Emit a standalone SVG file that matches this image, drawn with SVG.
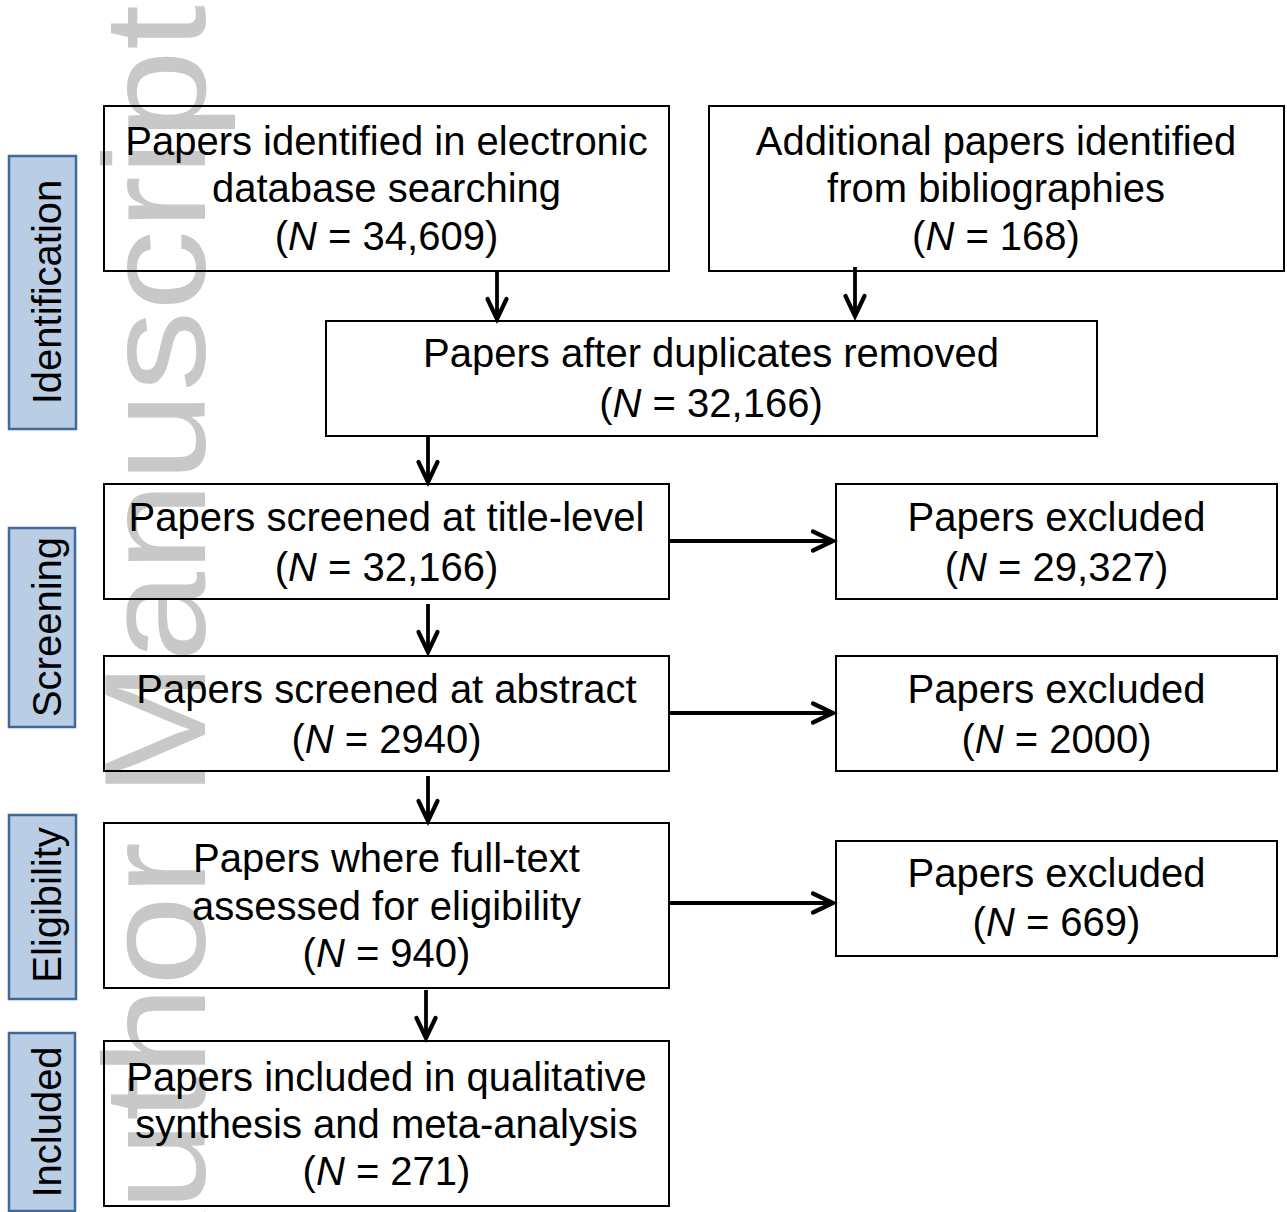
<svg xmlns="http://www.w3.org/2000/svg" width="1287" height="1212" viewBox="0 0 1287 1212">
<style>
.box{fill:none;stroke:#000;stroke-width:2}
.t{font-family:"Liberation Sans",Arial,sans-serif;font-size:40px;fill:#000;text-anchor:middle}
.lab{fill:#b9cde5;stroke:#41699b;stroke-width:2.5}
.wm{font-family:"Liberation Sans",Arial,sans-serif;font-size:145px;fill:#c8c8c8}
.c{fill:none;stroke:#000;stroke-width:3.8}
</style>
<defs>
<marker id="ah" markerUnits="userSpaceOnUse" markerWidth="40" markerHeight="40" viewBox="-30 -20 40 40" refX="0" refY="0" orient="auto" overflow="visible">
<path d="M-20,-9.5 L0,0 L-20,9.5" fill="none" stroke="#000" stroke-width="4.2" stroke-linecap="round" stroke-linejoin="miter"/>
</marker>
</defs>
<rect width="1287" height="1212" fill="#fff"/>
<text class="wm" x="-1314" y="0" textLength="1314" lengthAdjust="spacingAndGlyphs" transform="translate(205,5) rotate(-90)">Author Manuscript</text>

<g id="lab-identification"><rect class="lab" x="9" y="156" width="67" height="273"/><text class="t" transform="translate(61,292) rotate(-90)">Identification</text></g>
<g id="lab-screening"><rect class="lab" x="9" y="528" width="66" height="199"/><text class="t" transform="translate(61,627) rotate(-90)">Screening</text></g>
<g id="lab-eligibility"><rect class="lab" x="9" y="815" width="67" height="184"/><text class="t" transform="translate(61,905) rotate(-90)">Eligibility</text></g>
<g id="lab-included"><rect class="lab" x="9" y="1033" width="66" height="178"/><text class="t" transform="translate(61,1122) rotate(-90)">Included</text></g>

<g id="connectors">
<line class="c" x1="497" y1="271" x2="497" y2="319" marker-end="url(#ah)"/>
<line class="c" x1="855" y1="267" x2="855" y2="316" marker-end="url(#ah)"/>
<line class="c" x1="428" y1="436" x2="428" y2="482" marker-end="url(#ah)"/>
<line class="c" x1="428" y1="604" x2="428" y2="652" marker-end="url(#ah)"/>
<line class="c" x1="428" y1="776" x2="428" y2="821" marker-end="url(#ah)"/>
<line class="c" x1="426" y1="990" x2="426" y2="1038" marker-end="url(#ah)"/>
<line class="c" x1="669" y1="541" x2="833" y2="541" marker-end="url(#ah)"/>
<line class="c" x1="669" y1="713" x2="833" y2="713" marker-end="url(#ah)"/>
<line class="c" x1="669" y1="903" x2="833" y2="903" marker-end="url(#ah)"/>
</g>

<g id="n-database"><rect class="box" x="104" y="106" width="565" height="165"/>
<text class="t" x="386.5" y="155">Papers identified in electronic</text>
<text class="t" x="386.5" y="202">database searching</text>
<text class="t" x="386.5" y="250">(<tspan font-style="italic">N</tspan> = 34,609)</text></g>

<g id="n-biblio"><rect class="box" x="709" y="106" width="575" height="165"/>
<text class="t" x="996" y="155">Additional papers identified</text>
<text class="t" x="996" y="202">from bibliographies</text>
<text class="t" x="996" y="250">(<tspan font-style="italic">N</tspan> = 168)</text></g>

<g id="n-dups"><rect class="box" x="326" y="321" width="771" height="115"/>
<text class="t" x="711" y="367">Papers after duplicates removed</text>
<text class="t" x="711" y="417">(<tspan font-style="italic">N</tspan> = 32,166)</text></g>

<g id="n-title"><rect class="box" x="104" y="484" width="565" height="115"/>
<text class="t" x="386.5" y="531">Papers screened at title-level</text>
<text class="t" x="386.5" y="581">(<tspan font-style="italic">N</tspan> = 32,166)</text></g>

<g id="n-excl1"><rect class="box" x="836" y="484" width="441" height="115"/>
<text class="t" x="1056.5" y="531">Papers excluded</text>
<text class="t" x="1056.5" y="581">(<tspan font-style="italic">N</tspan> = 29,327)</text></g>

<g id="n-abstract"><rect class="box" x="104" y="656" width="565" height="115"/>
<text class="t" x="386.5" y="703">Papers screened at abstract</text>
<text class="t" x="386.5" y="753">(<tspan font-style="italic">N</tspan> = 2940)</text></g>

<g id="n-excl2"><rect class="box" x="836" y="656" width="441" height="115"/>
<text class="t" x="1056.5" y="703">Papers excluded</text>
<text class="t" x="1056.5" y="753">(<tspan font-style="italic">N</tspan> = 2000)</text></g>

<g id="n-fulltext"><rect class="box" x="104" y="823" width="565" height="165"/>
<text class="t" x="386.5" y="872">Papers where full-text</text>
<text class="t" x="386.5" y="920">assessed for eligibility</text>
<text class="t" x="386.5" y="967">(<tspan font-style="italic">N</tspan> = 940)</text></g>

<g id="n-excl3"><rect class="box" x="836" y="841" width="441" height="115"/>
<text class="t" x="1056.5" y="887">Papers excluded</text>
<text class="t" x="1056.5" y="936">(<tspan font-style="italic">N</tspan> = 669)</text></g>

<g id="n-included"><rect class="box" x="104" y="1041" width="565" height="165"/>
<text class="t" x="386.5" y="1091">Papers included in qualitative</text>
<text class="t" x="386.5" y="1138">synthesis and meta-analysis</text>
<text class="t" x="386.5" y="1185">(<tspan font-style="italic">N</tspan> = 271)</text></g>
</svg>
